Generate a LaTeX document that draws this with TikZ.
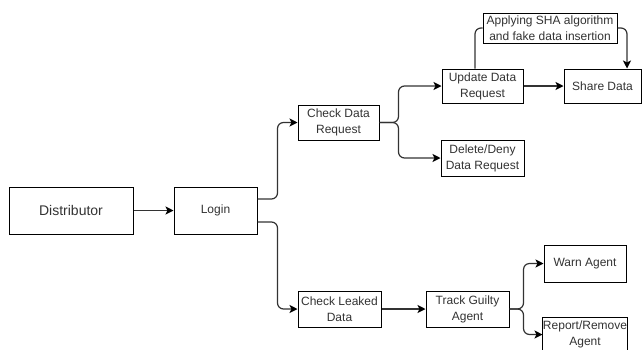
\documentclass[tikz,border=0pt]{standalone}
\usepackage{fontspec}
\setmainfont{Liberation Sans}
\usetikzlibrary{arrows.meta,calc}
\definecolor{txt}{HTML}{333333}
\definecolor{ln}{HTML}{333333}
\tikzset{
  box/.style={draw=black, line width=1pt, fill=white, inner sep=0pt, align=center,
    text=txt, font=\fontsize{12}{16}\selectfont},
  conn/.style={draw=ln, line width=1.2pt, rounded corners=6pt,
    -{Stealth[length=8pt,width=8pt,inset=2pt,black]}},
  plain/.style={draw=ln, line width=1.2pt, rounded corners=6pt}
}
\begin{document}
\begin{tikzpicture}[x=1pt,y=-1pt]
\useasboundingbox[fill=white] (0,0) rectangle (644,349);
\node[box, minimum width=124pt, minimum height=47pt, font=\fontsize{14}{17}\selectfont] (dist) at (71,210.5) {Distributor};
\node[box, minimum width=83pt, minimum height=47pt] (login) at (215.5,210.5) {Login};
\node[box, minimum width=81pt, minimum height=35pt] (chk) at (338.5,122.5) {Check Data\\Request};
\node[box, minimum width=81pt, minimum height=34pt] (upd) at (482.5,86) {Update Data\\Request};
\node[box, minimum width=83pt, minimum height=36pt] (del) at (482.5,158) {Delete/Deny\\Data Request};
\node[box, minimum width=77pt, minimum height=34pt] (share) at (602.5,86) {Share Data};
\node[box, minimum width=134pt, minimum height=30pt] (sha) at (550,28) {Applying SHA algorithm\\and fake data insertion};
\node[box, minimum width=83pt, minimum height=36pt] (leak) at (339.5,309) {Check Leaked\\Data};
\node[box, minimum width=83pt, minimum height=36pt] (track) at (467.5,309) {Track Guilty\\Agent};
\node[box, minimum width=82pt, minimum height=37pt] (warn) at (585,263.5) {Warn Agent};
\node[box, minimum width=82pt, minimum height=35pt] (rep) at (585,334.5) {Report/Remove\\Agent};

\draw[conn] (dist) -- (login);
\draw[conn] ($(login.east)+(0,-11.5)$) -- ++(20,0) |- (chk.west);
\draw[conn] ($(login.east)+(0,11.5)$) -- ++(20,0) |- (leak.west);
\draw[conn] (chk.east) -- ++(19,0) |- (upd.west);
\draw[conn] (chk.east) -- ++(19,0) |- (del.west);
\draw[conn] (upd) -- (share);
\draw[plain] ($(upd.north)+(-7.5,0)$) |- (sha.west);
\draw[conn] (sha.east) -| ($(share.north)+(24.5,0)$);
\draw[conn] (leak) -- (track);
\draw[conn] (track.east) -- ++(14,0) |- (warn.west);
\draw[conn] (track.east) -- ++(14,0) |- (rep.west);
\end{tikzpicture}
\end{document}
